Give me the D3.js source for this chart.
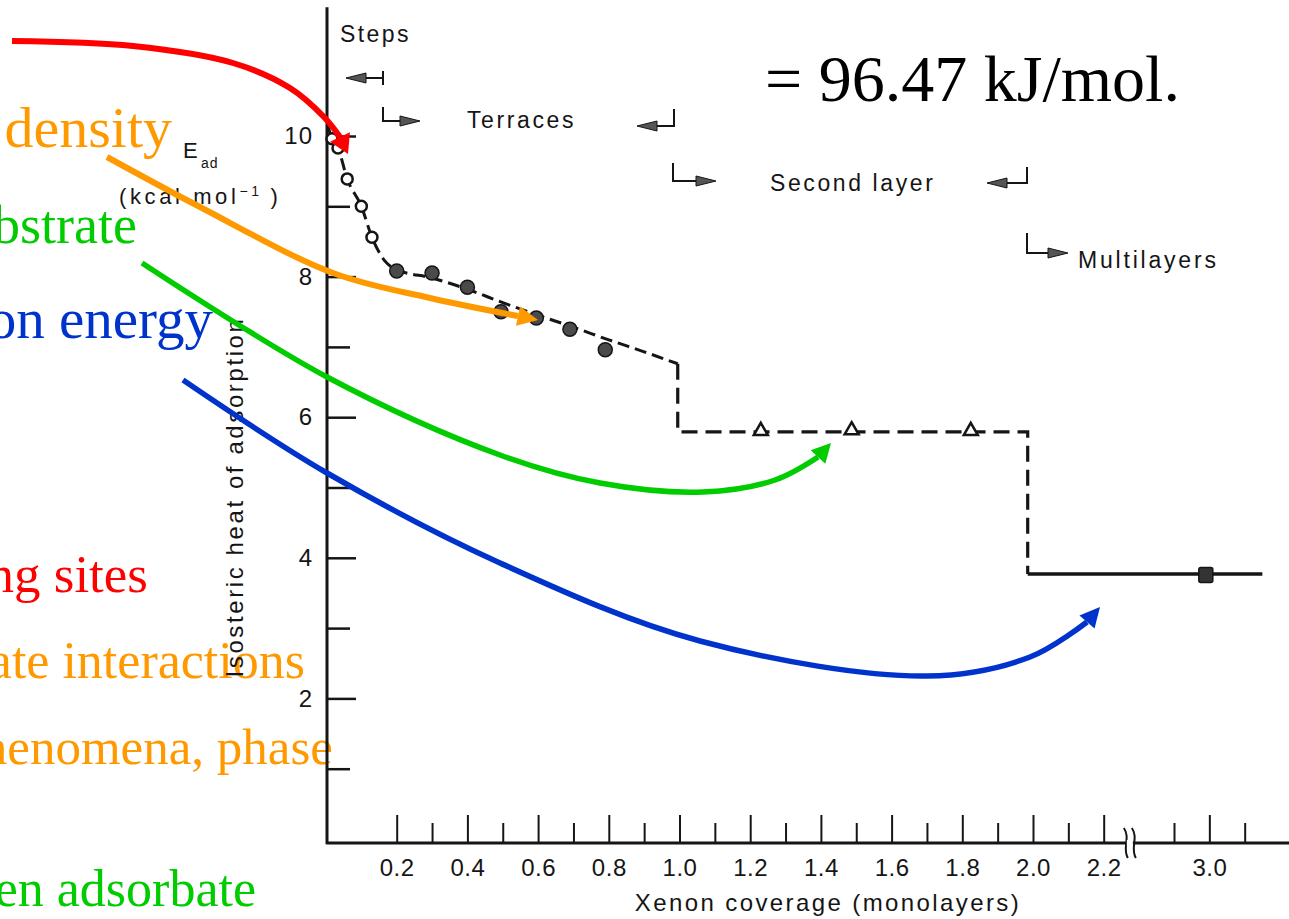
<!DOCTYPE html>
<html><head><meta charset="utf-8">
<script src="https://cdn.jsdelivr.net/npm/d3@7"></script>
<style>
html,body{margin:0;padding:0;background:#fff;overflow:hidden}
svg{display:block}
</style></head><body>
<svg id="chart" width="1289" height="919"></svg>
<script>
// ---------------- data ----------------
const stepCoverage    = [0.017, 0.034, 0.06, 0.10, 0.13];
const stepHeat        = [9.96, 9.83, 9.39, 9.00, 8.56];
const terraceCoverage = [0.20, 0.30, 0.40, 0.495, 0.595, 0.69, 0.79];
const terraceHeat     = [8.08, 8.05, 7.85, 7.50, 7.41, 7.25, 6.96];
const secondCoverage  = [1.23, 1.487, 1.824];
const secondHeat      = [5.79, 5.80, 5.79];
const multiCoverage   = [2.99];
const multiHeat       = [3.75];
const fitCoverage = [0.005, 0.017, 0.034, 0.06, 0.10, 0.13, 0.167, 0.20, 0.30, 0.40, 0.50, 0.60, 0.70, 0.80, 0.90, 0.995];
const fitHeat     = [10.15, 9.96, 9.83, 9.39, 9.00, 8.56, 8.22, 8.10, 7.98, 7.82, 7.63, 7.45, 7.28, 7.10, 6.93, 6.76];
const stepLineCoverage  = [0.995, 0.995, 1.985, 1.985];
const stepLineHeat      = [6.76, 5.79, 5.79, 3.77];
const multiLineCoverage = [1.985, 3.15];
const multiLineHeat     = [3.77, 3.77];
const yMajorTicks = [2, 4, 6, 8, 10];
const yMinorTicks = [1, 3, 5, 7, 9];
const xMajorTicks = [0.2, 0.4, 0.6, 0.8, 1.0, 1.2, 1.4, 1.6, 1.8, 2.0, 2.2, 3.0];
const xMinorTicks = [0.3, 0.5, 0.7, 0.9, 1.1, 1.3, 1.5, 1.7, 1.9, 2.1, 2.9, 3.1];
const xTickLabels = ["0.2","0.4","0.6","0.8","1.0","1.2","1.4","1.6","1.8","2.0","2.2","3.0"];
const regionLabels = ["Steps", "Terraces", "Second layer", "Multilayers"];
const slideLines = ["Site density", "Substrate", "Condensation energy", "Binding sites",
                    "Adsorbate-substrate interactions", "Cooperative phenomena, phase", "Between adsorbate"];
const resultText = "= 96.47 kJ/mol.";

// ---------------- scales ----------------
const svg = d3.select("#chart");
const x = d3.scaleLinear().domain([0, 2.2, 2.9, 3.25]).range([326, 1103.7, 1174, 1297.7]);
const y = d3.scaleLinear().domain([0, 10]).range([839, 136]);
const axisY = 843;
const sans = "'Liberation Sans', Arial, sans-serif";
const serif = "'Liberation Serif', 'Times New Roman', serif";
const ink = "#151515";

// ---------------- slide text (behind) ----------------
const slideStyle = [
  {c:"#FF9900", s:58, xe:172, yb:147},
  {c:"#00CC00", s:54, xe:137, yb:243},
  {c:"#0033CC", s:57, xe:213, yb:338},
  {c:"#FF0000", s:53, xe:148, yb:592},
  {c:"#FF9900", s:52, xe:305, yb:678},
  {c:"#FF9900", s:51, xe:333, yb:764},
  {c:"#00CC00", s:52, xe:256, yb:906}
];
svg.append("g").selectAll("text").data(slideLines).join("text")
  .attr("x", (d,i)=>slideStyle[i].xe).attr("y", (d,i)=>slideStyle[i].yb)
  .attr("text-anchor","end").attr("font-family", serif)
  .attr("font-size", (d,i)=>slideStyle[i].s).attr("fill", (d,i)=>slideStyle[i].c)
  .text(d=>d);

// ---------------- axes ----------------
const gAx = svg.append("g").attr("color", ink);
gAx.append("line").attr("x1", x(0)+1).attr("x2", x(0)+1)
  .attr("y1", y(11.83)).attr("y2", axisY+1).attr("stroke", ink).attr("stroke-width", 3);
gAx.append("line").attr("x1", x(0)).attr("x2", 1289)
  .attr("y1", axisY).attr("y2", axisY).attr("stroke", ink).attr("stroke-width", 3);

const yMaj = d3.axisLeft(y).tickValues(yMajorTicks).tickSizeInner(-29).tickSizeOuter(0).tickPadding(14);
const gy = gAx.append("g").attr("transform", `translate(${x(0)+1},0)`).call(yMaj);
gy.select(".domain").remove();
gy.selectAll("line").attr("stroke-width", 2.5);
gy.selectAll("text").attr("font-family", sans).attr("font-size", 24).attr("fill", ink).attr("letter-spacing", 1);
const yMin = d3.axisLeft(y).tickValues(yMinorTicks).tickSizeInner(-23).tickSizeOuter(0).tickFormat("");
const gy2 = gAx.append("g").attr("transform", `translate(${x(0)+1},0)`).call(yMin);
gy2.select(".domain").remove();
gy2.selectAll("line").attr("stroke-width", 2.5);

const xMaj = d3.axisBottom(x).tickValues(xMajorTicks).tickSizeInner(-28).tickSizeOuter(0).tickPadding(16)
  .tickFormat((d,i)=>xTickLabels[i]);
const gx = gAx.append("g").attr("transform", `translate(0,${axisY})`).call(xMaj);
gx.select(".domain").remove();
gx.selectAll("line").attr("stroke-width", 2);
gx.selectAll("text").attr("font-family", sans).attr("font-size", 24).attr("fill", ink).attr("letter-spacing", 0.5);
const xMin = d3.axisBottom(x).tickValues(xMinorTicks).tickSizeInner(-20).tickSizeOuter(0).tickFormat("");
const gx2 = gAx.append("g").attr("transform", `translate(0,${axisY})`).call(xMin);
gx2.select(".domain").remove();
gx2.selectAll("line").attr("stroke-width", 2);

// axis break marks
const bx = (x(2.2) + x(2.9)) / 2 - 13;
[0, 8].forEach(o => {
  gAx.append("path")
    .attr("d", `M${bx+o-2},${axisY-15} C${bx+o+5},${axisY-5} ${bx+o-4},${axisY+5} ${bx+o+2},${axisY+15}`)
    .attr("fill","none").attr("stroke", ink).attr("stroke-width", 2);
});
gAx.append("rect").attr("x", bx+1).attr("y", axisY-3).attr("width", 6).attr("height", 6).attr("fill","#fff");

// axis titles
svg.append("text").attr("transform", `translate(237,497) rotate(-90)`)
  .attr("text-anchor","middle").attr("dominant-baseline","middle")
  .attr("font-family", sans).attr("font-size", 24).attr("letter-spacing", 2.6).attr("fill", ink)
  .text("Isosteric heat of adsorption");
svg.append("text").attr("x", 828).attr("y", 911).attr("text-anchor","middle")
  .attr("font-family", sans).attr("font-size", 24).attr("letter-spacing", 2.4).attr("fill", ink)
  .text("Xenon coverage (monolayers)");
const ead = svg.append("text").attr("font-family", sans).attr("fill", ink);
ead.append("tspan").attr("x", 183).attr("y", 158).attr("font-size", 22).text("E");
ead.append("tspan").attr("x", 201).attr("y", 168).attr("font-size", 14).attr("letter-spacing", 1).text("ad");
const unit = svg.append("text").attr("x", 119).attr("y", 204).attr("font-family", sans)
  .attr("font-size", 22).attr("letter-spacing", 3.6).attr("fill", ink);
unit.append("tspan").text("(kcal mol");
unit.append("tspan").attr("dy", -8).attr("font-size", 14).text("−1");
unit.append("tspan").attr("dy", 8).attr("dx", 8).text(")");

// ---------------- data lines ----------------
const line = d3.line().x(d=>x(d[0])).y(d=>y(d[1]));
svg.append("path").datum(d3.zip(fitCoverage, fitHeat))
  .attr("d", line.curve(d3.curveMonotoneX)).attr("fill","none").attr("stroke", ink)
  .attr("stroke-width", 3).attr("stroke-dasharray", "12 6");
svg.append("path").datum(d3.zip(stepLineCoverage, stepLineHeat))
  .attr("d", d3.line().x(d=>x(d[0])).y(d=>y(d[1]))).attr("fill","none").attr("stroke", ink)
  .attr("stroke-width", 3.2).attr("stroke-dasharray", "16 8");
svg.append("path").datum(d3.zip(multiLineCoverage, multiLineHeat))
  .attr("d", d3.line().x(d=>x(d[0])).y(d=>y(d[1]))).attr("fill","none").attr("stroke", ink)
  .attr("stroke-width", 3.5);

// ---------------- markers ----------------
svg.append("g").selectAll("circle").data(d3.zip(stepCoverage, stepHeat)).join("circle")
  .attr("cx", d=>x(d[0])).attr("cy", d=>y(d[1])).attr("r", 5.5)
  .attr("fill","#fff").attr("stroke", ink).attr("stroke-width", 2.5);
svg.append("g").selectAll("circle").data(d3.zip(terraceCoverage, terraceHeat)).join("circle")
  .attr("cx", d=>x(d[0])).attr("cy", d=>y(d[1])).attr("r", 7)
  .attr("fill","#4a4a4a").attr("stroke", ink).attr("stroke-width", 1.5);
svg.append("g").selectAll("path").data(d3.zip(secondCoverage, secondHeat)).join("path")
  .attr("transform", d=>`translate(${x(d[0])},${y(d[1])-1})`)
  .attr("d", d3.symbol(d3.symbolTriangle).size(85))
  .attr("fill","#fff").attr("stroke", ink).attr("stroke-width", 2.5);
svg.append("g").selectAll("rect").data(d3.zip(multiCoverage, multiHeat)).join("rect")
  .attr("x", d=>x(d[0])-7).attr("y", d=>y(d[1])-8).attr("width", 14).attr("height", 15).attr("rx", 2)
  .attr("fill","#333").attr("stroke", ink).attr("stroke-width", 1.5);

// ---------------- region annotations ----------------
const ann = svg.append("g").attr("font-family", sans).attr("fill", ink);
ann.append("text").attr("x", 340).attr("y", 42).attr("font-size", 23).attr("letter-spacing", 2.4).text(regionLabels[0]);
ann.append("text").attr("x", 467).attr("y", 128).attr("font-size", 23).attr("letter-spacing", 2.6).text(regionLabels[1]);
ann.append("text").attr("x", 770).attr("y", 191).attr("font-size", 23).attr("letter-spacing", 2.6).text(regionLabels[2]);
ann.append("text").attr("x", 1078).attr("y", 268).attr("font-size", 23).attr("letter-spacing", 2.8).text(regionLabels[3]);

const bracket = [
  ["M383,71 V85 M383,78 H360", [346,78], -1],
  ["M383,107 V121 H402", [420,121], 1],
  ["M674,109 V126 H655", [637,126], -1],
  ["M673,163 V181 H697", [716,181], 1],
  ["M1027,167 V183 H1005", [987,183], -1],
  ["M1027,233 V253 H1050", [1068,253], 1]
];
bracket.forEach(b => {
  ann.append("path").attr("d", b[0]).attr("fill","none").attr("stroke", ink).attr("stroke-width", 2);
  const t = b[1], d = b[2];
  ann.append("path").attr("d", `M${t[0]},${t[1]} L${t[0]-d*20},${t[1]-5} L${t[0]-d*20},${t[1]+5} Z`)
    .attr("fill", "#555").attr("stroke", ink).attr("stroke-width", 1);
});

// result text
svg.append("text").attr("x", 765).attr("y", 101).attr("font-family", serif)
  .attr("font-size", 66).attr("fill", "#000").text(resultText);

// ---------------- colored slide arrows ----------------
const arrows = [
  {c:"#FF0000", w:6, pts:[[12,41],[133,46],[233,63],[290,88],[324,117],[340,137]], tip:[348,154], hw:11},
  {c:"#FF9900", w:6, pts:[[107,157],[200,207],[333,273],[430,298],[518,316]], tip:[538,320], hw:10},
  {c:"#00CC00", w:5.5, pts:[[142,263],[327,377],[500,455],[600,483],[703,492],[775,480],[818,457]], tip:[831,443], hw:10},
  {c:"#0033CC", w:5.5, pts:[[183,380],[327,473],[500,563],[700,641],[927,676],[1030,657],[1087,622]], tip:[1100,607], hw:10}
];
const curve = d3.line().curve(d3.curveCatmullRom.alpha(0.5));
arrows.forEach(a => {
  svg.append("path").attr("d", curve(a.pts)).attr("fill","none")
    .attr("stroke", a.c).attr("stroke-width", a.w).attr("stroke-linecap","butt");
  const p = a.pts[a.pts.length-1], t = a.tip;
  const dx = t[0]-p[0], dy = t[1]-p[1], L = Math.hypot(dx,dy);
  const nx = -dy/L, ny = dx/L;
  svg.append("path")
    .attr("d", `M${t[0]},${t[1]} L${p[0]+nx*a.hw},${p[1]+ny*a.hw} L${p[0]-nx*a.hw},${p[1]-ny*a.hw} Z`)
    .attr("fill", a.c);
});
</script>
</body></html>
